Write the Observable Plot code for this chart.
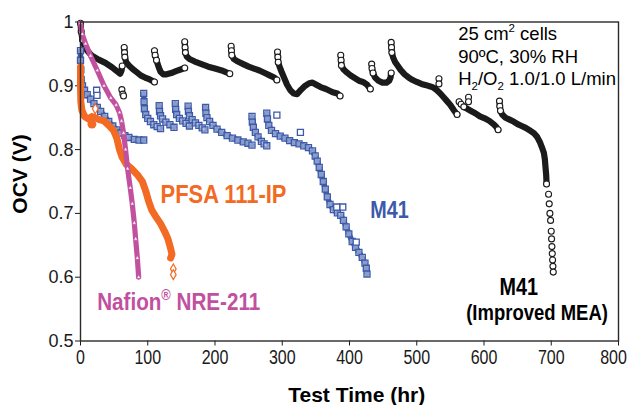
<!DOCTYPE html>
<html>
<head>
<meta charset="utf-8">
<script src="https://cdn.jsdelivr.net/npm/d3@7"></script>
<script src="https://cdn.jsdelivr.net/npm/@observablehq/plot@0.6"></script>
<style>
  html, body { margin: 0; padding: 0; background: white; }
  #chart { width: 627px; height: 405px; }
</style>
</head>
<body>
<div id="chart"></div>
<script>
// ---------- data ----------
const xTicks = [0, 100, 200, 300, 400, 500, 600, 700, 800];
const yTicks = [0.5, 0.6, 0.7, 0.8, 0.9, 1];
const yTickLabels = ["0.5", "0.6", "0.7", "0.8", "0.9", "1"];

// M41 (Improved MEA) – black open circles, segments between refresh jumps
const m41ImprovedSegments = [
  [[0,0.998],[1,0.985],[3,0.972],[6,0.962],[10,0.955],[17,0.947],[27,0.941],[37,0.936],[47,0.929],[54,0.923],[59,0.919],[61,0.924],[62,0.931]],
  [[65,0.96],[65.5,0.952],[66,0.945],[68,0.937],[72,0.932],[78,0.926],[84,0.921],[90,0.916],[96,0.913],[103,0.91],[110,0.906]],
  [[110,0.955],[111,0.948],[113,0.94],[116,0.93],[119,0.922],[123,0.918],[128,0.918],[135,0.92],[142,0.923],[150,0.926],[155,0.928]],
  [[155,0.969],[155.5,0.96],[156,0.952],[158,0.946],[162,0.942],[170,0.938],[180,0.934],[190,0.93],[200,0.927],[210,0.924],[217,0.921],[222,0.919]],
  [[224,0.962],[224.5,0.955],[225,0.948],[228,0.942],[234,0.938],[242,0.934],[250,0.93],[258,0.927],[266,0.924],[274,0.92],[282,0.916],[288,0.913],[292,0.909]],
  [[293,0.953],[293.5,0.945],[294,0.937],[296,0.93],[299,0.922],[303,0.912],[307,0.902],[312,0.893],[317,0.888],[322,0.887],[328,0.894],[334,0.9],[340,0.904],[345,0.905],[350,0.902],[357,0.898],[365,0.895],[375,0.89],[382,0.888],[386,0.884]],
  [[387,0.948],[387.5,0.94],[388,0.932],[391,0.926],[396,0.921],[402,0.916],[408,0.912],[414,0.908],[420,0.906],[426,0.902],[431,0.895]],
  [[433,0.934],[433.5,0.927],[435,0.92],[438,0.913],[443,0.908],[449,0.905],[455,0.905],[459,0.908],[461,0.913],[462,0.92]],
  [[462,0.968],[462.5,0.96],[463,0.952],[465,0.944],[468,0.937],[472,0.931],[476,0.925],[482,0.918],[488,0.913],[494,0.909],[500,0.906],[507,0.903],[514,0.901],[520,0.899],[525,0.897],[530,0.893],[535,0.888],[540,0.882],[545,0.876],[550,0.87],[555,0.862],[560,0.855]],
  [[563,0.875],[566,0.871],[570,0.867],[575,0.864],[580,0.861],[587,0.857],[594,0.852],[601,0.849],[608,0.845],[614,0.84],[618,0.836],[621,0.831]],
  [[623,0.876],[623.5,0.868],[624.5,0.861],[627,0.855],[632,0.85],[638,0.847],[644,0.844],[650,0.84],[656,0.837],[662,0.834],[668,0.83],[674,0.826],[679,0.82],[683,0.812],[686,0.804],[689,0.795],[690.5,0.785],[691.5,0.772],[692.5,0.76],[693,0.746]]
];
// scattered open circles (spikes, isolated points and the final drop)
const m41ImprovedLoose = [
  [61.5,0.894],[63,0.887],[64,0.884],[533,0.911],[533,0.903],[577,0.882],[577,0.875],
  [696,0.73],[697,0.715],[698,0.7],[699,0.689],[700,0.672],[700.5,0.66],[701,0.648],[701.5,0.637],[702,0.627],[702.5,0.617],[703,0.608]
];

// M41 – blue open squares
const m41Segments = [
  [[0,0.955],[0,0.94],[0.5,0.925],[1,0.91],[3,0.9],[6,0.893],[10,0.886],[15,0.879],[20,0.872],[25,0.866],[30,0.86],[36,0.852],[42,0.844],[48,0.837],[54,0.831],[60,0.826],[66,0.822],[72,0.819],[80,0.816],[87,0.815],[94,0.815]],
  [[94,0.888],[94.5,0.875],[95,0.864],[97,0.855],[100,0.849],[104,0.844],[109,0.839],[114,0.836],[119,0.833]],
  [[117,0.869],[117.5,0.86],[119,0.853],[122,0.848],[127,0.843],[133,0.839],[139,0.835]],
  [[141,0.872],[141.5,0.863],[143,0.855],[147,0.849],[152,0.845],[157,0.841],[162,0.837]],
  [[160,0.868],[160.5,0.86],[162,0.853],[166,0.847],[171,0.842],[176,0.838],[181,0.834],[185,0.831]],
  [[186,0.866],[186.5,0.857],[188,0.85],[192,0.844],[197,0.838],[203,0.832],[210,0.827],[218,0.822],[226,0.818],[234,0.815],[242,0.812],[249,0.81],[255,0.807]],
  [[255,0.852],[255.5,0.843],[257,0.835],[260,0.827],[264,0.82],[269,0.813],[273,0.809],[277,0.806]],
  [[277,0.857],[278,0.848],[280,0.838],[284,0.83],[290,0.825],[297,0.821],[304,0.818],[311,0.814],[318,0.811],[325,0.809],[332,0.806],[339,0.803],[345,0.798],[349,0.79],[352,0.782],[355,0.772],[358,0.761],[361,0.75],[364,0.738],[367,0.726],[371,0.714],[376,0.706],[382,0.701],[387,0.697],[391,0.689],[395,0.679],[399,0.668],[404,0.656],[409,0.647],[414,0.639],[419,0.631],[423,0.622],[425,0.614],[426,0.605]]
];
const m41Loose = [[24,0.893],[24.5,0.885],[292,0.854],[327,0.827],[390,0.71],[381,0.71],[410,0.655]];

// Nafion NRE-211 – magenta triangles
const nafion = [[0,0.998],[2.5,0.981],[7.5,0.966],[15,0.947],[25,0.924],[35,0.9],[45,0.881],[53,0.87],[58,0.858],[61,0.845],[64,0.826],[67,0.8],[70,0.77],[74,0.74],[77,0.715],[80,0.685],[82,0.66],[84.5,0.63],[86.5,0.6]];

// PFSA 111-IP – orange diamonds
const pfsa = [[0,0.93],[0,0.9],[0.5,0.875],[2,0.862],[6,0.852],[12,0.848],[17,0.852],[22,0.85],[28,0.847],[35,0.845],[42,0.838],[49,0.83],[54,0.818],[58,0.8],[62,0.788],[68,0.777],[76,0.77],[85,0.76],[92,0.75],[97,0.735],[101,0.72],[106,0.705],[112,0.695],[119,0.684],[125,0.672],[130,0.66],[134,0.645],[136,0.636],[134,0.63]];
const pfsaLoose = [[138,0.613],[138,0.604],[22,0.864]];
const pfsaBlob = [[17,0.84]];

// texts
const seriesLabels = ["PFSA 111-IP", "M41", "Nafion® NRE-211", "M41", "(Improved MEA)"];
const noteLines = ["25 cm2 cells", "90ºC, 30% RH", "H2/O2 1.0/1.0 L/min"];
const xTitle = "Test Time (hr)";
const yTitle = "OCV (V)";

// ---------- build ----------
const toRows = (segs) => segs.flatMap((s, k) => s.map(([x, y], i) => ({seg: k, i, n: s.length, x, y})));
const toPts = (arr) => arr.map(([x, y]) => ({x, y}));

const blackRows = toRows(m41ImprovedSegments);
const blueRows = toRows(m41Segments);
const nafRows = toPts(nafion);
const pfsaRows = toPts(pfsa);

const cBlack = "#1b1b1b", cBlue = "#3c5aa9", cMag = "#c1519f", cOr = "#f26a24";
const fReg = "'Liberation Sans', Arial, sans-serif";

const label = (t, x, y, fill, size) =>
  Plot.text([t], {x, y, text: d => d, textAnchor: "start", lineAnchor: "middle", fill, fontWeight: "bold", fontSize: size, fontFamily: fReg});

const plot = Plot.plot({
  width: 627,
  height: 405,
  marginLeft: 80,
  marginRight: 9,
  marginTop: 21.5,
  marginBottom: 64.5,
  style: {background: "white", color: "#1a1a1a", fontFamily: fReg, fontSize: "19px", overflow: "visible"},
  x: {domain: [0, 800], label: null},
  y: {domain: [0.5, 1], label: null},
  marks: [
    Plot.axisX({ticks: xTicks, tickSize: 5, tickPadding: 4, fontSize: 20, fontFamily: fReg, label: null}),
    Plot.axisY({ticks: yTicks, tickSize: 5, tickPadding: 2, fontSize: 19, fontFamily: fReg, label: null,
      tickFormat: d => yTickLabels[yTicks.indexOf(d)]}),
    // M41 improved (black)
    Plot.line(blackRows, {x: "x", y: "y", z: "seg", stroke: cBlack, strokeWidth: 6.2, strokeLinecap: "round", strokeLinejoin: "round"}),
    Plot.dot(blackRows.filter(d => d.i < 3 || d.i === d.n - 1), {x: "x", y: "y", r: 3, fill: "white", stroke: cBlack, strokeWidth: 1.1}),
    Plot.dot(toPts(m41ImprovedLoose), {x: "x", y: "y", r: 3, fill: "white", stroke: cBlack, strokeWidth: 1.1}),
    // M41 (blue)
    Plot.line(blueRows, {x: "x", y: "y", z: "seg", stroke: cBlue, strokeWidth: 5.5, strokeLinecap: "round", strokeLinejoin: "round"}),
    Plot.dot(blueRows, {x: "x", y: "y", symbol: "square", r: 3.4, fill: "white", fillOpacity: 0.4, stroke: cBlue, strokeWidth: 1.3}),
    Plot.dot(toPts(m41Loose), {x: "x", y: "y", symbol: "square", r: 3.4, fill: "white", stroke: cBlue, strokeWidth: 1.3}),
    // PFSA (orange)
    Plot.line(pfsaRows, {x: "x", y: "y", stroke: cOr, strokeWidth: 7, strokeLinecap: "round", strokeLinejoin: "round"}),
    Plot.dot(toPts(pfsaBlob), {x: "x", y: "y", r: 4.5, fill: cOr}),
    Plot.dot(toPts(pfsaLoose), {x: "x", y: "y", symbol: "diamond", r: 3, fill: "white", stroke: cOr, strokeWidth: 1.2}),
    // Nafion (magenta)
    Plot.line(nafRows, {x: "x", y: "y", stroke: cMag, strokeWidth: 5.2, strokeLinecap: "round", strokeLinejoin: "round"}),
    Plot.dot(nafRows, {x: "x", y: "y", symbol: "triangle", r: 1.6, fill: "white", stroke: cMag, strokeWidth: 0.8}),
    Plot.frame({stroke: "#2a2a2a", strokeWidth: 1.4}),
    // series labels (condensed below)
    label(seriesLabels[0], 119, 0.7296, cOr, 25.5),
    label(seriesLabels[1], 431, 0.7045, cBlue, 23),
    label(seriesLabels[2], 24.8, 0.5608, cMag, 24),
    label(seriesLabels[3], 623, 0.5843, "#000", 23),
    label(seriesLabels[4], 573.5, 0.5439, "#000", 21.5),
    // condition notes
    Plot.text([noteLines[0]], {x: 561.6, y: 0.9813, text: d => d, textAnchor: "start", lineAnchor: "middle", fill: "#000", fontSize: 18.5, fontFamily: fReg}),
    Plot.text([noteLines[1]], {x: 561.6, y: 0.9448, text: d => d, textAnchor: "start", lineAnchor: "middle", fill: "#000", fontSize: 18.5, fontFamily: fReg}),
    Plot.text([noteLines[2]], {x: 561.6, y: 0.9108, text: d => d, textAnchor: "start", lineAnchor: "middle", fill: "#000", fontSize: 18.5, fontFamily: fReg}),
    // axis titles (final placement checked below against the rendered box)
    Plot.text([xTitle], {x: 411.4, y: 0.4155, text: d => d, textAnchor: "middle", lineAnchor: "middle", fill: "#000", fontWeight: "bold", fontSize: 21, fontFamily: fReg}),
    Plot.text([yTitle], {x: -89.2, y: 0.761, text: d => d, rotate: -90, textAnchor: "middle", lineAnchor: "middle", fill: "#000", fontWeight: "bold", fontSize: 21, fontFamily: fReg})
  ]
});

document.getElementById("chart").appendChild(plot);
const svg = d3.select(plot);

// condense selected texts horizontally (the reference uses a narrow face)
function condense(sel, sx) {
  sel.each(function () {
    const t = this.getAttribute("transform");
    if (t) this.setAttribute("transform", t + ` scale(${sx},1)`);
    else {
      const x = +this.getAttribute("x") || 0;
      this.setAttribute("transform", `translate(${x},0) scale(${sx},1) translate(${-x},0)`);
    }
  });
}
const labelSet = new Set(seriesLabels);
condense(svg.selectAll("text").filter(function () { return labelSet.has(this.textContent); }), 0.86);
condense(svg.selectAll('g[aria-label="x-axis tick label"] text'), 0.8);
condense(svg.selectAll('g[aria-label="y-axis tick label"] text'), 0.95);
svg.selectAll('g[aria-label="x-axis tick label"] text').filter(function () { return this.textContent === "800"; })
  .each(function () { const t = this.getAttribute("transform") || ""; this.setAttribute("transform", t.replace(/scale/, "translate(-5,0) scale")); });

// make sure the axis titles sit where the reference has them (box centres, px)
function centreAt(el, cx, cy) {
  const r = el.getBoundingClientRect(), s = plot.getBoundingClientRect();
  const dx = cx - (r.left + r.width / 2 - s.left), dy = cy - (r.top + r.height / 2 - s.top);
  el.setAttribute("transform", `translate(${dx.toFixed(2)},${dy.toFixed(2)}) ` + (el.getAttribute("transform") || ""));
}
svg.selectAll("text").each(function () {
  if (this.textContent === xTitle) centreAt(this, 356.7, 394.4);
  if (this.textContent === yTitle) centreAt(this, 19.7, 174);
});

// rich text: superscripts / subscripts
const rich = {
  "25 cm2 cells": [["25 cm"], ["2", "sup"], [" cells"]],
  "H2/O2 1.0/1.0 L/min": [["H"], ["2", "sub"], ["/O"], ["2", "sub"], [" 1.0/1.0 L/min"]],
  "Nafion® NRE-211": [["Nafion"], ["®", "sup"], [" NRE-211"]]
};
svg.selectAll("text").each(function () {
  const parts = rich[this.textContent];
  if (!parts) return;
  const fs = parseFloat(getComputedStyle(this).fontSize) || 18;
  const el = d3.select(this);
  el.text(null);
  let cur = 0;
  parts.forEach(([t, kind]) => {
    const target = kind === "sup" ? -0.42 * fs : kind === "sub" ? 0.28 * fs : 0;
    const ts = el.append("tspan").text(t);
    if (target - cur !== 0) ts.attr("dy", (target - cur).toFixed(2));
    if (kind) ts.attr("font-size", (fs * 0.62).toFixed(1) + "px");
    cur = target;
  });
});
</script>
</body>
</html>
